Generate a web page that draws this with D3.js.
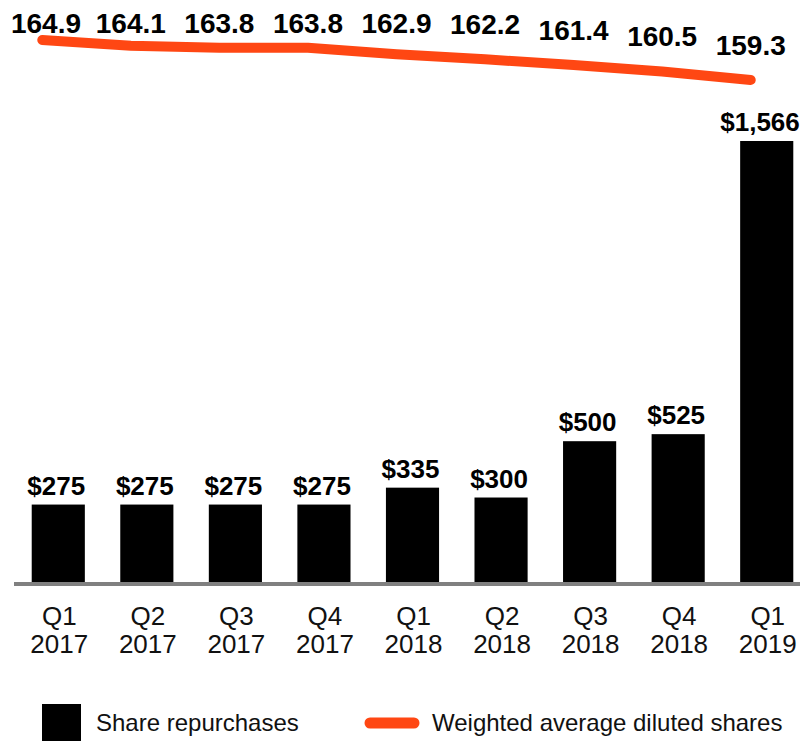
<!DOCTYPE html>
<html>
<head>
<meta charset="utf-8">
<script src="https://cdn.jsdelivr.net/npm/d3@7"></script>
<style>
  body { margin: 0; background: #fff; }
  text { font-family: "Liberation Sans", Arial, sans-serif; }
</style>
</head>
<body>
<div id="chart"></div>
<script>
const quarters = ['Q1', 'Q2', 'Q3', 'Q4', 'Q1', 'Q2', 'Q3', 'Q4', 'Q1'];
const years = ['2017', '2017', '2017', '2017', '2018', '2018', '2018', '2018', '2019'];
const repurchases = [275, 275, 275, 275, 335, 300, 500, 525, 1566];
const dilutedShares = [164.9, 164.1, 163.8, 163.8, 162.9, 162.2, 161.4, 160.5, 159.3];

const categories = quarters.map((q, i) => q + ' ' + years[i]);
const orange = '#ff4713';

const svg = d3.select('#chart')
    .append('svg')
    .attr('width', 805)
    .attr('height', 741);

const x = d3.scaleBand()
    .domain(categories)
    .range([14, 811])
    .paddingInner(0.4)
    .paddingOuter(0.2);

const y = d3.scaleLinear()
    .domain([0, 1566])
    .range([582, 141]);

const yLine = d3.scaleLinear()
    .domain([159.3, 164.9])
    .range([80, 40]);

// bars
svg.selectAll('.bar')
    .data(repurchases)
    .enter()
    .append('rect')
    .attr('class', 'bar')
    .attr('x', (d, i) => x(categories[i]))
    .attr('y', d => y(d))
    .attr('width', x.bandwidth())
    .attr('height', d => y(0) - y(d))
    .attr('fill', '#000');

// bar labels
svg.selectAll('.bar-label')
    .data(repurchases)
    .enter()
    .append('text')
    .attr('class', 'bar-label')
    .attr('x', (d, i) => Math.min(x(categories[i]) + x.bandwidth() / 2 - 2, 760))
    .attr('y', d => y(d) - 10)
    .attr('text-anchor', 'middle')
    .style('font-size', '26px')
    .style('font-weight', 'bold')
    .text(d => '$' + d3.format(',')(d));

// baseline
svg.append('rect')
    .attr('x', 14)
    .attr('y', y(0))
    .attr('width', 786)
    .attr('height', 4)
    .attr('fill', '#808080');

// x axis labels
const axisLabels = svg.selectAll('.axis-label')
    .data(categories)
    .enter()
    .append('text')
    .attr('class', 'axis-label')
    .attr('text-anchor', 'middle')
    .style('font-size', '26px')
    .attr('fill', '#111');

axisLabels.append('tspan')
    .attr('x', d => x(d) + x.bandwidth() / 2 + 1)
    .attr('y', 625)
    .text((d, i) => quarters[i]);

axisLabels.append('tspan')
    .attr('x', d => x(d) + x.bandwidth() / 2 + 1)
    .attr('y', 653)
    .text((d, i) => years[i]);

// diluted shares line
const lineX = i => x(categories[i]) + x.bandwidth() / 2 - 16;

const line = d3.line()
    .x((d, i) => lineX(i))
    .y(d => yLine(d));

svg.append('path')
    .datum(dilutedShares)
    .attr('d', line)
    .attr('fill', 'none')
    .attr('stroke', orange)
    .attr('stroke-width', 10)
    .attr('stroke-linecap', 'round')
    .attr('stroke-linejoin', 'round');

svg.selectAll('.line-label')
    .data(dilutedShares)
    .enter()
    .append('text')
    .attr('class', 'line-label')
    .attr('x', (d, i) => Math.max(lineX(i), 46))
    .attr('y', d => Math.max(33, yLine(d) - 25))
    .attr('text-anchor', 'middle')
    .style('font-size', '28px')
    .style('font-weight', 'bold')
    .text(d => d.toFixed(1));

// legend
const legend = svg.append('g');

legend.append('rect')
    .attr('x', 42)
    .attr('y', 704)
    .attr('width', 39)
    .attr('height', 37)
    .attr('fill', '#000');

legend.append('text')
    .attr('x', 96)
    .attr('y', 731)
    .style('font-size', '24px')
    .attr('fill', '#111')
    .text('Share repurchases');

legend.append('line')
    .attr('x1', 370)
    .attr('x2', 414)
    .attr('y1', 723)
    .attr('y2', 723)
    .attr('stroke', orange)
    .attr('stroke-width', 11)
    .attr('stroke-linecap', 'round');

legend.append('text')
    .attr('x', 432)
    .attr('y', 731)
    .style('font-size', '24px')
    .attr('fill', '#111')
    .text('Weighted average diluted shares');
</script>
</body>
</html>
